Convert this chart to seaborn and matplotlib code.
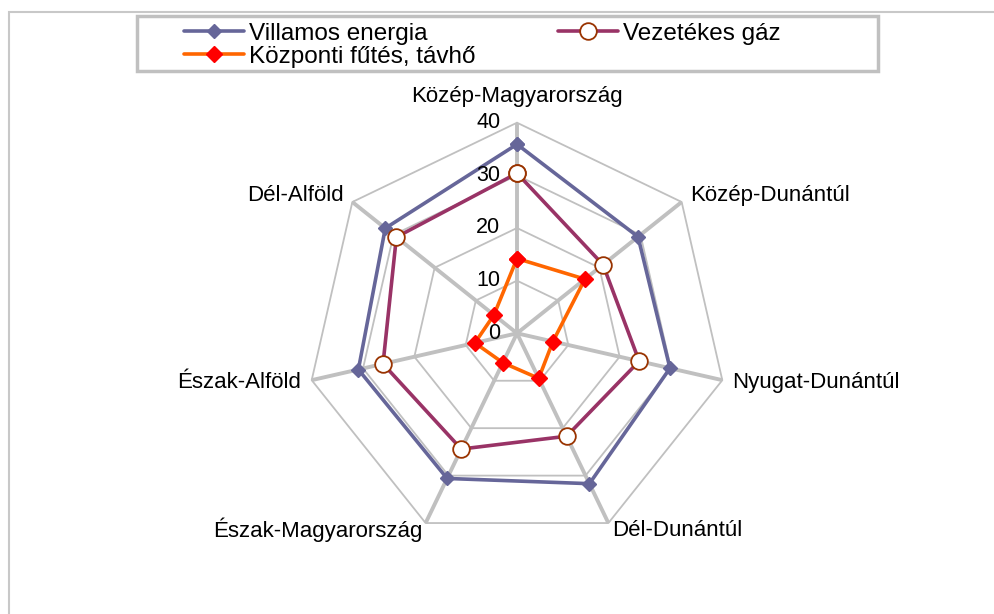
import numpy as np
import matplotlib
matplotlib.use('Agg')
import matplotlib.pyplot as plt
from matplotlib.patches import Rectangle
import seaborn as sns

# ── data ─────────────────────────────────────
categories = ['Közép-Magyarország', 'Közép-Dunántúl', 'Nyugat-Dunántúl',
              'Dél-Dunántúl', 'Észak-Magyarország', 'Észak-Alföld', 'Dél-Alföld']
villamos = [35.9, 29.4, 29.8, 31.7, 30.6, 30.9, 32.0]
gaz      = [30.4, 20.9, 23.8, 21.7, 24.4, 26.1, 29.3]
futes    = [14.2, 16.5, 7.0, 9.5, 6.2, 8.2, 5.6]
series_names = ['Villamos energia', 'Vezetékes gáz', 'Központi fűtés, távhő']
rings = [0, 10, 20, 30, 40]

# ── style ────────────────────────────────────
sns.set_style('white')
plt.rcParams['font.family'] = ['Liberation Sans', 'DejaVu Sans']
plt.rcParams['text.color'] = 'black'
GRID = '#C0C0C0'

W, H = 994, 614
fig = plt.figure(figsize=(W / 100, H / 100), dpi=100, facecolor='white')

# polar axes, centre at (517, 333) px, radius 211 px
cx, cy, rad = 517, 333.3, 210.6
ax = fig.add_axes([(cx - rad) / W, (H - cy - rad) / H, 2 * rad / W, 2 * rad / H],
                  projection='polar')
ax.set_theta_zero_location('N')
ax.set_theta_direction(-1)
ax.set_facecolor('none')
ax.grid(False)
ax.spines['polar'].set_visible(False)

n = len(categories)
theta = np.linspace(0, 2 * np.pi, n, endpoint=False)
theta_c = np.append(theta, 2 * np.pi)

# polygon grid + spokes
for r in rings[1:]:
    ax.plot(theta_c, [r] * (n + 1), color=GRID, lw=1.3, zorder=1, clip_on=False)
for th in theta:
    ax.plot([th, th], [0, rings[-1]], color=GRID, lw=2.8, zorder=1,
            solid_capstyle='butt', clip_on=False)

# series
styles = [
    dict(color='#666699', marker='D', markersize=6.8, markerfacecolor='#666699',
         markeredgecolor='#666699', markeredgewidth=1),
    dict(color='#993366', marker='o', markersize=12, markerfacecolor='white',
         markeredgecolor='#993300', markeredgewidth=1.3),
    dict(color='#FF6600', marker='D', markersize=8.2, markerfacecolor='#FF0000',
         markeredgecolor='#FF0000', markeredgewidth=1),
]
handles = []
for vals, st, z in zip([villamos, gaz, futes], styles, [3, 4, 5]):
    sns.lineplot(x=theta_c, y=list(vals) + [vals[0]], sort=False, estimator=None,
                 linewidth=2.6, ax=ax, zorder=z, clip_on=False, **st)
    handles.append(ax.lines[-1])

ax.set_ylim(0, rings[-1])
ax.set_xticks([])
ax.set_yticks([])
ax.set_xlabel('')
ax.set_ylabel('')

# radial tick labels
for r in rings:
    ax.annotate(str(r), xy=(0, r), xytext=(-12, 0), textcoords='offset points',
                ha='right', va='center', fontsize=15.5, color='black')

# category labels
for th, lab in zip(theta, categories):
    s = np.sin(th)
    if abs(s) < 1e-6:
        ax.text(th, 44.0, lab, ha='center', va='baseline', fontsize=16)
    else:
        r = 41.5 if np.cos(th) < -0.5 else 42
        ax.text(th, r, lab, ha='left' if s > 0 else 'right', va='center',
                fontsize=16)

# outer chart border
fig.add_artist(Rectangle((8.5 / W, -0.1), 2, (H - 12) / H + 0.1,
                         transform=fig.transFigure, fill=False,
                         ec='#C8C8C8', lw=1.5))

# legend frame + legend
fig.add_artist(Rectangle((137 / W, 1 - 70.7 / H), 741 / W, 55 / H,
                         transform=fig.transFigure, fill=False,
                         ec=GRID, lw=2.5))
order = [0, 2, 1]
fig.legend([handles[i] for i in order], [series_names[i] for i in order],
           ncol=2, loc='upper left', bbox_to_anchor=(184 / W, 1 - 22.5 / H),
           frameon=False, borderpad=0, borderaxespad=0, handlelength=2.45,
           handletextpad=0.22, columnspacing=3.4, labelspacing=0.05,
           fontsize=17.5)

fig.savefig('out.png', dpi=100, facecolor='white')
